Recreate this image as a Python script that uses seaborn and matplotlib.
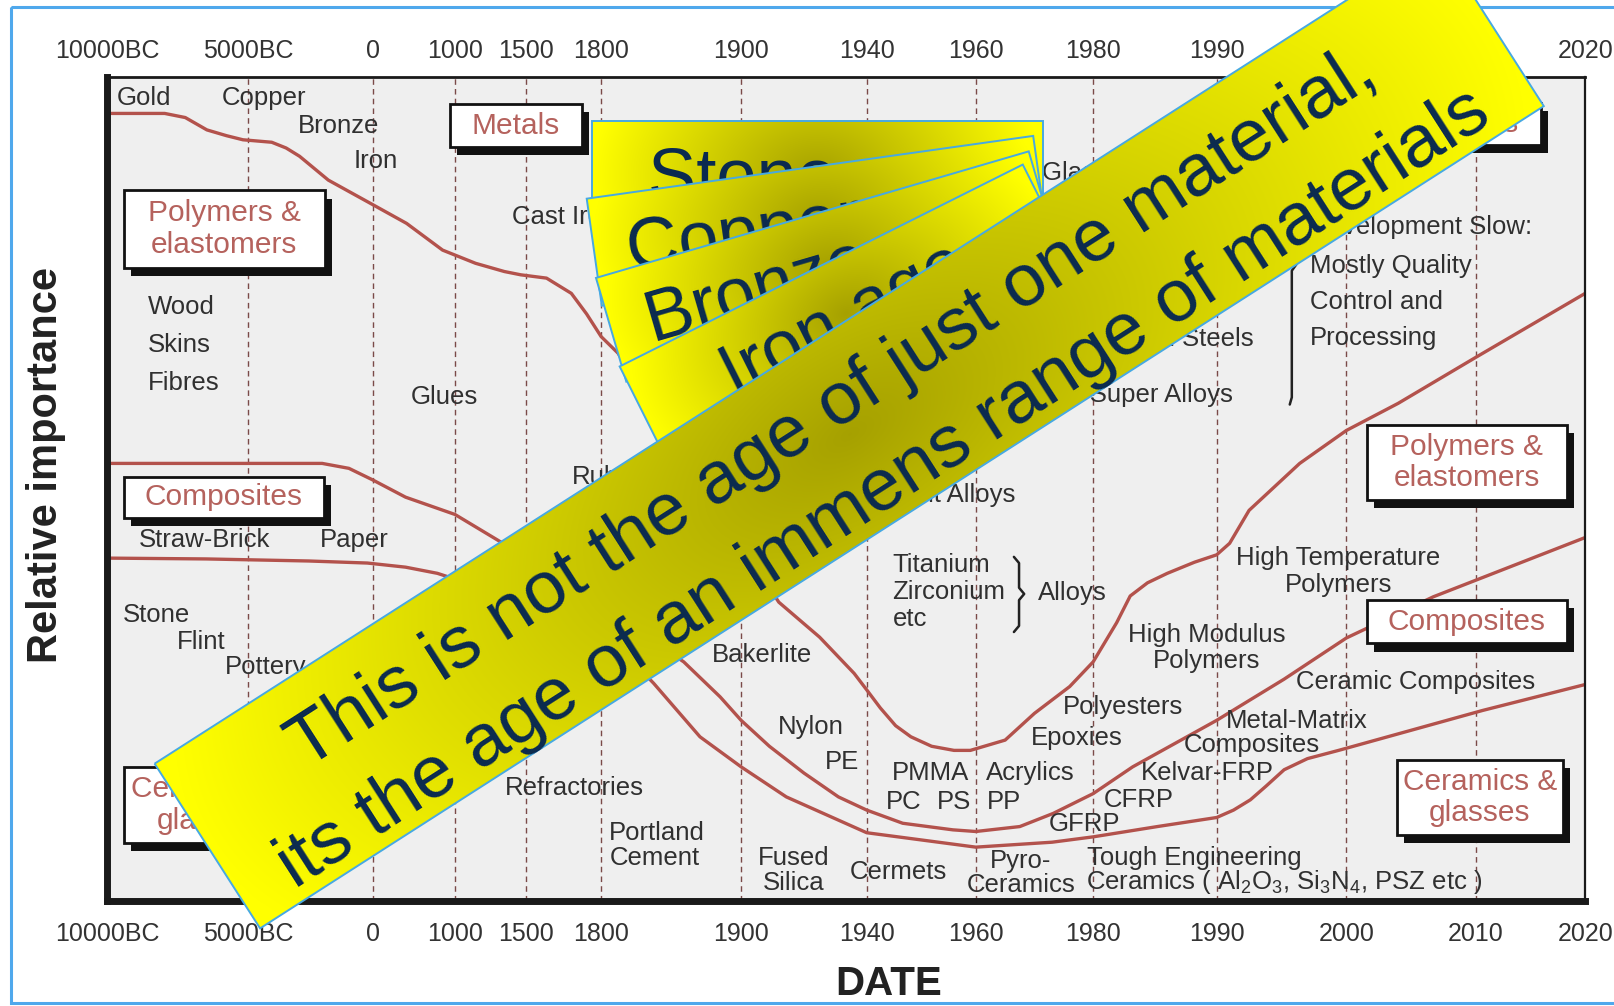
import numpy as np
import pandas as pd
import seaborn as sns
import matplotlib.pyplot as plt
from matplotlib.patches import Polygon, Rectangle

# ----------------------------
# Data
# ----------------------------
tick_years = [-10000, -5000, 0, 1000, 1500, 1800, 1900, 1940, 1960, 1980, 1990, 2000, 2010, 2020]
tick_labels = ["10000BC", "5000BC", "0", "1000", "1500", "1800", "1900",
               "1940", "1960", "1980", "1990", "2000", "2010", "2020"]

# boundary between metals (above) and polymers (below)
metals_edge_years = [-10000, -7956, -7226, -6460, -5767, -5182, -4628, -4050, -3471, -2934,
                     -1777, -40, 412, 850, 1145, 1348, 1464, 1582, 1681, 1742, 1800, 1812,
                     1849, 1885, 1912, 1925, 1936, 1940, 1942.5, 1945.3, 1948.1, 1951.9,
                     1956, 1959, 1965, 1970, 1976, 1980, 1981.9, 1983, 1984.4, 1986, 1988.2,
                     1989.0, 1990, 1991.0, 1992.5, 1996.4, 2000, 2004, 2010, 2020]
metals_edge_vals = [95.6, 95.6, 95.1, 93.6, 92.9, 92.4, 92.25, 92.1, 91.4, 90.4,
                    87.5, 84.6, 82.25, 79.0, 77.4, 76.4, 76.0, 75.6, 73.75, 71.25, 68.5, 66.5,
                    56.75, 47.1, 36.25, 32.0, 27.6, 25.6, 23.4, 21.25, 19.9, 18.75,
                    18.25, 18.25, 19.5, 22.75, 26.0, 29.0, 33.75, 37.0, 38.6, 39.75, 41.1,
                    41.5, 42.0, 43.4, 47.4, 53.1, 57.1, 60.4, 66.0, 73.75]

# boundary between polymers (above) and composites (below)
polymers_edge_years = [-10000, -6496, -2025, -951, 0, 400, 1000, 1304, 1619, 1812, 1859,
                       1885, 1900, 1909, 1920, 1931, 1940, 1946.6, 1955.8, 1960, 1967.5,
                       1973.2, 1980, 1983.2, 1990, 1995.2, 2000, 2006.7, 2020]
polymers_edge_vals = [53.1, 53.1, 53.1, 52.5, 51.1, 49.0, 46.9, 43.75, 39.4, 34.4, 29.0,
                      24.75, 21.9, 18.75, 15.5, 12.6, 11.0, 9.4, 8.6, 8.4, 9.0,
                      10.6, 13.0, 16.25, 21.9, 26.9, 31.9, 36.9, 44.1]

# boundary between composites (above) and ceramics (below)
composites_edge_years = [-10000, -6496, -2562, -207, 400, 787, 1275, 1619, 1812, 1837.5,
                         1870.6, 1900, 1914.4, 1940, 1960, 1973, 1980, 1985.2, 1990, 1991.3,
                         1992.6, 1993.8, 1995.2, 1997.0, 1999.4, 2010.6, 2020]
composites_edge_vals = [41.6, 41.5, 41.25, 41.0, 40.5, 39.75, 37.5, 34.4, 30.9, 26.4,
                        19.9, 16.25, 12.6, 8.25, 6.5, 7.1, 7.75, 9.0, 10.1, 11.0,
                        12.25, 13.9, 15.9, 17.25, 18.25, 23.1, 26.25]

class_boxes = ["Metals", "Polymers &\nelastomers", "Composites", "Ceramics &\nglasses",
               "Metals", "Polymers &\nelastomers", "Composites", "Ceramics &\nglasses"]

card_texts = ["Stone age", "Copper age", "Bronze age", "Iron age"]
banner_lines = ["This is not the age of just one material,",
                "its the age of an immens range of materials"]

# ----------------------------
# Layout (pixels as read on the 1568 px wide reference)
# ----------------------------
S = 1614 / 1568
PX0, PX1, PY0, PY1 = 104, 1540, 75, 875
date_px = [104, 241, 362, 442, 511, 584, 720, 842, 948, 1062, 1182, 1308, 1434, 1540]
date_frac = (np.array(date_px) - PX0) / (PX1 - PX0)


def fwd(x):
    return np.interp(x, tick_years, date_frac)


def inv(f):
    return np.interp(f, date_frac, tick_years)


def axfrac(px, py):
    return (px - PX0) / (PX1 - PX0), (PY1 - py) / (PY1 - PY0)


notes = [
    ("Gold", 140, 95, "center"), ("Copper", 256, 95, "center"),
    ("Bronze", 329, 122, "center"), ("Iron", 365, 156, "center"),
    ("Cast Iron", 497, 211, "left"), ("Glassy Metals", 1012, 168, "left"),
    ("Wood", 144, 298, "left"), ("Skins", 144, 335, "left"), ("Fibres", 144, 372, "left"),
    ("Glues", 432, 386, "center"), ("Rubber", 556, 463, "left"),
    ("Light Alloys", 986, 481, "right"),
    ("Microalloyed Steels", 1218, 329, "right"), ("New Super Alloys", 1198, 384, "right"),
    ("Development Slow:", 1273, 221, "left"), ("Mostly Quality", 1273, 258, "left"),
    ("Control and", 1273, 293, "left"), ("Processing", 1273, 328, "left"),
    ("Straw-Brick", 199, 525, "center"), ("Paper", 344, 525, "center"),
    ("Stone", 152, 597, "center"), ("Flint", 195, 624, "center"), ("Pottery", 218, 648, "left"),
    ("Titanium", 867, 549, "left"), ("Zirconium", 867, 575, "left"), ("etc", 867, 601, "left"),
    ("Alloys", 1042, 576, "center"), ("Bakerlite", 740, 636, "center"),
    ("High Modulus", 1172, 617, "center"), ("Polymers", 1172, 642, "center"),
    ("High Temperature", 1300, 542, "center"), ("Polymers", 1300, 568, "center"),
    ("Ceramic Composites", 1375, 663, "center"), ("Polyesters", 1091, 687, "center"),
    ("Epoxies", 1046, 717, "center"), ("Metal-Matrix", 1260, 700, "center"),
    ("Composites", 1216, 724, "center"), ("Nylon", 788, 706, "center"),
    ("PE", 818, 740, "center"), ("PMMA", 904, 751, "center"), ("Acrylics", 1001, 751, "center"),
    ("Kelvar-FRP", 1173, 751, "center"), ("PC", 878, 779, "center"), ("PS", 927, 779, "center"),
    ("PP", 975, 779, "center"), ("CFRP", 1106, 777, "center"), ("GFRP", 1054, 801, "center"),
    ("Refractories", 558, 766, "center"), ("Portland", 592, 809, "left"),
    ("Cement", 592, 834, "left"), ("Fused", 771, 834, "center"), ("Silica", 771, 858, "center"),
    ("Cermets", 873, 847, "center"), ("Pyro-", 991, 836, "center"),
    ("Ceramics", 992, 860, "center"), ("Tough Engineering", 1160, 834, "center"),
    ("Ceramics ( Al$_2$O$_3$, Si$_3$N$_4$, PSZ etc )", 1055, 857, "left"),
]
box_px = [(437, 101, 565, 143), (120, 185, 316, 260), (120, 463, 315, 503), (120, 745, 284, 819),
          (1369, 100, 1497, 141), (1328, 413, 1522, 486), (1328, 583, 1522, 625),
          (1357, 738, 1518, 811)]

card_corner = [(575, 118), (570, 193), (579, 270), (602, 356)]
card_angle = [0, 8, 16.3, 26.6]
CARD_W, CARD_H = 438, 105
banner_center, banner_angle, BANNER_L, BANNER_W = (825, 422.5), 32.64, 1481, 190

curve_color = "#b3524c"
label_color = "#303030"
box_red = "#b5625d"
yellow = np.array([1.0, 1.0, 0.0])
olive = np.array([0.65, 0.63, 0.0])
edge_blue = "#47a9e2"
navy = "#0a2a50"

# ----------------------------
# Chart
# ----------------------------
sns.set_theme(style="white")
plt.rcParams["font.family"] = ["Liberation Sans", "DejaVu Sans"]
plt.rcParams["mathtext.default"] = "regular"

fig = plt.figure(figsize=(16.14, 10.06), dpi=100)
fig.patch.set_facecolor("white")
ax = fig.add_axes([PX0 / 1568, 1 - PY1 * S / 1006, (PX1 - PX0) / 1568, (PY1 - PY0) * S / 1006])
ax.set_facecolor("#efefef")

curves = pd.concat([
    pd.DataFrame({"year": metals_edge_years, "importance": metals_edge_vals, "edge": "metals"}),
    pd.DataFrame({"year": polymers_edge_years, "importance": polymers_edge_vals, "edge": "polymers"}),
    pd.DataFrame({"year": composites_edge_years, "importance": composites_edge_vals, "edge": "composites"}),
], ignore_index=True)

ax.set_xscale("function", functions=(fwd, inv))
sns.lineplot(data=curves, x="year", y="importance", units="edge", estimator=None, sort=False,
             color=curve_color, linewidth=2.4, ax=ax, zorder=2)
for ln in ax.lines:
    ln.set_solid_joinstyle("round")

ax.set_xlim(tick_years[0], tick_years[-1])
ax.set_ylim(0, 100)
ax.set_xticks(tick_years)
ax.set_xticklabels(tick_labels)
ax.set_yticks([])
ax.set_xlabel("")
ax.set_ylabel("")
ax.tick_params(axis="x", bottom=True, labelbottom=True, top=False, labeltop=False,
               length=0, pad=15.5, labelsize=18, labelcolor="#333333")
# top row of date labels
for yr, lab in zip(tick_years, tick_labels):
    ax.text(yr, (PY1 - 49.5) / (PY1 - PY0), lab, transform=ax.get_xaxis_transform(),
            ha="center", va="center", fontsize=18, color="#333333", clip_on=False)

for yr in tick_years[1:-1]:
    ax.axvline(yr, color="#7a4a48", lw=1.0, ls=(0, (4, 3)), zorder=1)

for side, lw in [("left", 5), ("bottom", 5), ("top", 2), ("right", 1.6)]:
    ax.spines[side].set_linewidth(lw)
    ax.spines[side].set_color("#1a1a1a")

for txt, px, py, ha in notes:
    fx, fy = axfrac(px, py)
    ax.text(fx, fy, txt, transform=ax.transAxes, ha=ha, va="center",
            fontsize=18.5, color=label_color, zorder=3)

sdx, sdy = 7 / (PX1 - PX0), 8 / (PY1 - PY0)
for txt, (x0, y0, x1, y1) in zip(class_boxes, box_px):
    fx0, fy1 = axfrac(x0, y0)
    fx1, fy0 = axfrac(x1, y1)
    ax.add_patch(Rectangle((fx0 + sdx, fy0 - sdy), fx1 - fx0, fy1 - fy0, transform=ax.transAxes,
                           facecolor="#111111", edgecolor="none", zorder=4))
    ax.add_patch(Rectangle((fx0, fy0), fx1 - fx0, fy1 - fy0, transform=ax.transAxes,
                           facecolor="white", edgecolor="#111111", lw=2, zorder=5))
    ax.text((fx0 + fx1) / 2, (fy0 + fy1) / 2, txt, transform=ax.transAxes, ha="center",
            va="center", fontsize=21.5, color=box_red, linespacing=1.15, zorder=6)

# braces
for pts in ([(985, 541), (990, 547), (990, 571), (995, 577), (990, 583), (990, 608), (985, 614)],
            [(1260, 256), (1255, 263), (1255, 386), (1253, 393)]):
    fxy = [axfrac(px, py) for px, py in pts]
    ax.plot([p[0] for p in fxy], [p[1] for p in fxy], transform=ax.transAxes,
            color="#222222", lw=1.8, zorder=3)

fig.text(46 / 1614, 1 - 465 / 1006, "Relative importance", rotation=90, ha="center",
         va="center", fontsize=30, fontweight="bold", color="#222222")
fig.text(889 / 1614, 1 - 984 / 1006, "DATE", ha="center", va="center",
         fontsize=29, fontweight="bold", color="#222222")

# ----------------------------
# Overlay: cards and banner
# ----------------------------
ov = fig.add_axes([0, 0, 1, 1], zorder=10)
ov.set_xlim(0, 1614 / S)
ov.set_ylim(1006 / S, 0)
ov.set_autoscale_on(False)
ov.axis("off")
ov.patch.set_visible(False)

ov.add_patch(Rectangle((11 / S, 7 / S), 1700, 996 / S, fill=False, edgecolor="#4fa8ec",
                       lw=2.2, zorder=1))


def gradient_strip(center, angle, length, height, lines, offsets, fontsize, z, spread, along=0.0):
    a = np.deg2rad(angle)
    d = np.array([np.cos(a), -np.sin(a)])
    n = np.array([np.sin(a), np.cos(a)])
    c = np.array(center, dtype=float)
    hl, hh = length / 2, height / 2
    corners = [c - d * hl - n * hh, c + d * hl - n * hh, c + d * hl + n * hh, c - d * hl + n * hh]
    poly = Polygon(corners, closed=True, facecolor="none", edgecolor=edge_blue, lw=1.4, zorder=z + 1)
    ov.add_patch(poly)
    xs = [p[0] for p in corners]
    ys = [p[1] for p in corners]
    x0, x1, y0, y1 = min(xs), max(xs), min(ys), max(ys)
    gx, gy = np.meshgrid(np.linspace(x0, x1, int(x1 - x0) + 2), np.linspace(y0, y1, int(y1 - y0) + 2))
    u = (gx - c[0]) * d[0] + (gy - c[1]) * d[1]
    v = (gx - c[0]) * n[0] + (gy - c[1]) * n[1]
    r = np.clip(np.sqrt((u / hl) ** 2 + (v / (spread * hh)) ** 2), 0, 1)
    rgb = olive[None, None, :] + (yellow - olive)[None, None, :] * r[..., None]
    im = ov.imshow(rgb, extent=(x0, x1, y1, y0), origin="upper", zorder=z,
                   interpolation="bilinear", aspect="auto")
    im.set_clip_path(poly)
    for line, off in zip(lines, offsets):
        p = c + n * off + d * along
        tx = ov.text(p[0], p[1], line, rotation=angle, rotation_mode="anchor", ha="center",
                     va="baseline", fontsize=fontsize, color=navy, zorder=z + 2)
        tx.set_clip_on(True)
        tx.set_clip_path(poly)


for i, (txt, (cx0, cy0), ang) in enumerate(zip(card_texts, card_corner, card_angle)):
    a = np.deg2rad(ang)
    d = np.array([np.cos(a), -np.sin(a)])
    n = np.array([np.sin(a), np.cos(a)])
    cc = np.array([cx0, cy0]) + d * CARD_W / 2 + n * CARD_H / 2
    gradient_strip(cc, ang, CARD_W, CARD_H, [txt], [23], 52, 10 * (i + 1), 3.0, along=-4)

gradient_strip(banner_center, banner_angle, BANNER_L, BANNER_W, banner_lines, [-11, 81],
               53.5, 50, 4.0)

ov.set_xlim(0, 1614 / S)
ov.set_ylim(1006 / S, 0)

fig.savefig("out.png", dpi=100)
